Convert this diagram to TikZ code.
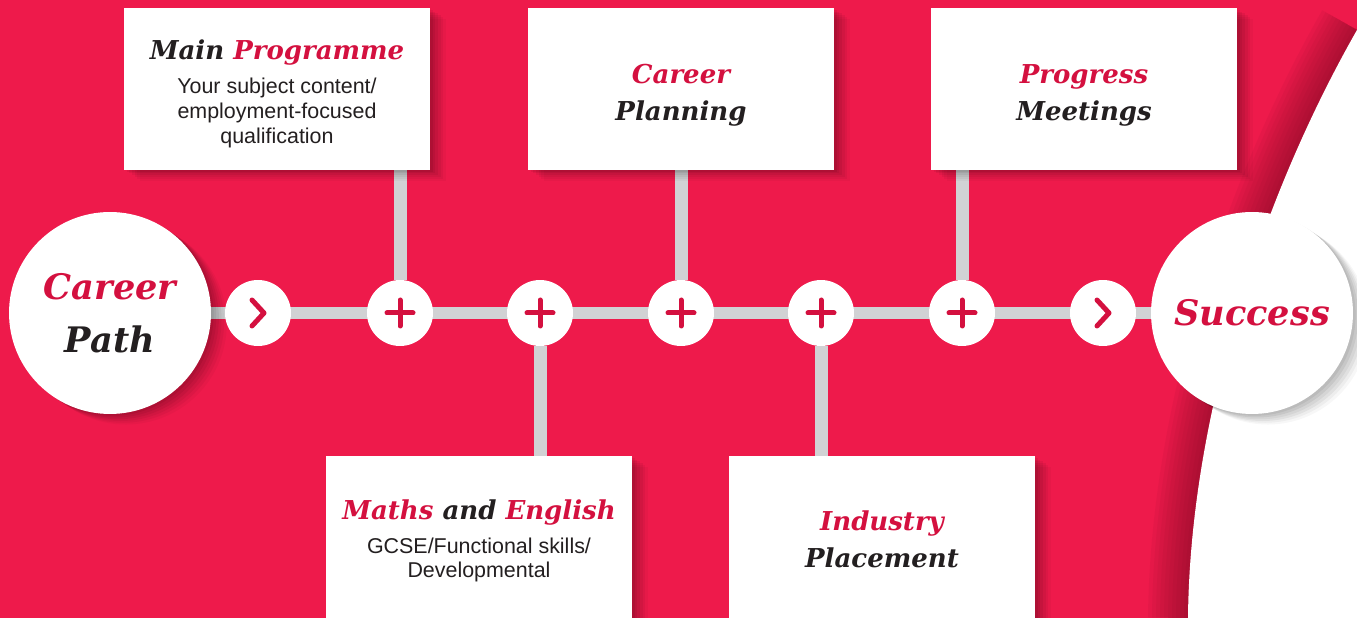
\documentclass[tikz,border=0pt]{standalone}
\usepackage{fontspec}
\setmainfont{DejaVu Serif}
\setsansfont{Liberation Sans}
\definecolor{bgred}{HTML}{EE1A4B}
\definecolor{txtred}{HTML}{D4103F}
\definecolor{txtdark}{HTML}{231F20}
\definecolor{linegray}{HTML}{D1D2D4}
\definecolor{shadered}{HTML}{7A0A24}
\pgfdeclarelayer{bg}
\pgfdeclarelayer{rails}
\pgfsetlayers{bg,rails,main}
\newcommand{\hl}[1]{\textcolor{txtred}{#1}}
\newcommand{\cardtitle}{\rmfamily\bfseries\itshape\fontsize{14.8}{21}\selectfont}
\newcommand{\cardsub}{\sffamily\fontsize{12.2}{14.2}\selectfont}
\tikzstyle{softshade}=[preaction={fill=black,opacity=0.06,transform canvas={xshift=1.5pt,yshift=-1pt}},
                       preaction={fill=black,opacity=0.06,transform canvas={xshift=3pt,yshift=-2pt}},
                       preaction={fill=black,opacity=0.05,transform canvas={xshift=4.5pt,yshift=-3pt}},
                       preaction={fill=black,opacity=0.05,transform canvas={xshift=6pt,yshift=-4pt}},
                       preaction={fill=black,opacity=0.04,transform canvas={xshift=7.5pt,yshift=-5pt}},
                       preaction={fill=black,opacity=0.03,transform canvas={xshift=9pt,yshift=-6pt}}]
\tikzstyle{card}=[rectangle,fill=white,inner sep=0pt,
                  minimum width=6.12cm,minimum height=3.24cm,softshade]
\tikzstyle{cardtext}=[align=center,text=txtdark,inner sep=0pt,font=\cardsub]
\tikzstyle{cardhead}=[align=center,text=txtdark,inner sep=0pt,font=\cardtitle]
\tikzstyle{bigdot}=[circle,fill=white,inner sep=0pt,align=center,
                    minimum size=4.04cm,text=txtdark,softshade,
                    font=\bfseries\itshape\fontsize{20}{30}\selectfont]
\tikzstyle{joint}=[circle,fill=white,inner sep=0pt,minimum size=1.32cm]
\tikzstyle{rail}=[draw=linegray,line width=0.26cm]
\tikzstyle{signpen}=[draw=txtred,line width=0.1cm,line cap=round,line join=round]

\begin{document}
\begin{tikzpicture}[x=0.02cm,y=-0.02cm]
    \useasboundingbox (0,0) rectangle (1357,618);
    % background and white curve
    \begin{pgfonlayer}{bg}
      \fill[bgred] (0,0) rectangle (1357,618);
      \foreach \w in {80,72,...,8}
        \draw[shadered,opacity=0.07,line width=\w*0.02cm]
          (1357,30) .. controls (1260,200) and (1190,420) .. (1188,618);
      \fill[white] (1357,30) .. controls (1260,200) and (1190,420) .. (1188,618)
        -- (1357,618) -- cycle;
    \end{pgfonlayer}
    % start, joints and goal
    \node (cp) at (110,313) [bigdot]{\hl{Career}\\Path};
    \node (sc) at (1252,313) [bigdot]{\hl{Success}};
    \node (a1) at (258,313) [joint]{};
    \node (p1) at (400,313) [joint]{};
    \node (p2) at (540,313) [joint]{};
    \node (p3) at (681,313) [joint]{};
    \node (p4) at (821,313) [joint]{};
    \node (p5) at (962,313) [joint]{};
    \node (a2) at (1103,313) [joint]{};
    % cards
    \node (mp) at (277,89) [card]{};
    \node (cpl) at (681,89) [card]{};
    \node (pm) at (1084,89) [card]{};
    \node (me) at (479,537) [card]{};
    \node (ip) at (882,537) [card]{};
    \node (mpt) at (277,94) [cardtext]{\cardtitle Main \hl{Programme}\\[5pt]
      Your subject content/\\employment-focused\\qualification};
    \node (cplt) at (681,95) [cardhead]{\hl{Career}\\Planning};
    \node (pmt) at (1084,95) [cardhead]{\hl{Progress}\\Meetings};
    \node (met) at (479,541) [cardtext]{\cardtitle\hl{Maths} and \hl{English}\\[5pt]
      GCSE/Functional skills/\\Developmental};
    \node (ipt) at (882,539) [cardhead]{\hl{Industry}\\Placement};
    % rails
    \begin{pgfonlayer}{rails}
      \draw[rail] (cp) -- (sc);
      \draw[rail] (p1) -- (p1 |- mp.south);
      \draw[rail] (p3) -- (cpl);
      \draw[rail] (p5) -- (p5 |- pm.south);
      \draw[rail] (p2) -- (p2 |- me.north);
      \draw[rail] (p4) -- (p4 |- ip.north);
    \end{pgfonlayer}
    % signs
    \foreach \n in {p1,p2,p3,p4,p5}
      \draw[signpen] (\n) +(-13,0) -- +(13,0) (\n) +(0,-13) -- +(0,13);
    \foreach \n in {a1,a2}
      \draw[signpen] (\n) +(-6,-13) -- +(6,0) -- +(-6,13);
\end{tikzpicture}
\end{document}
